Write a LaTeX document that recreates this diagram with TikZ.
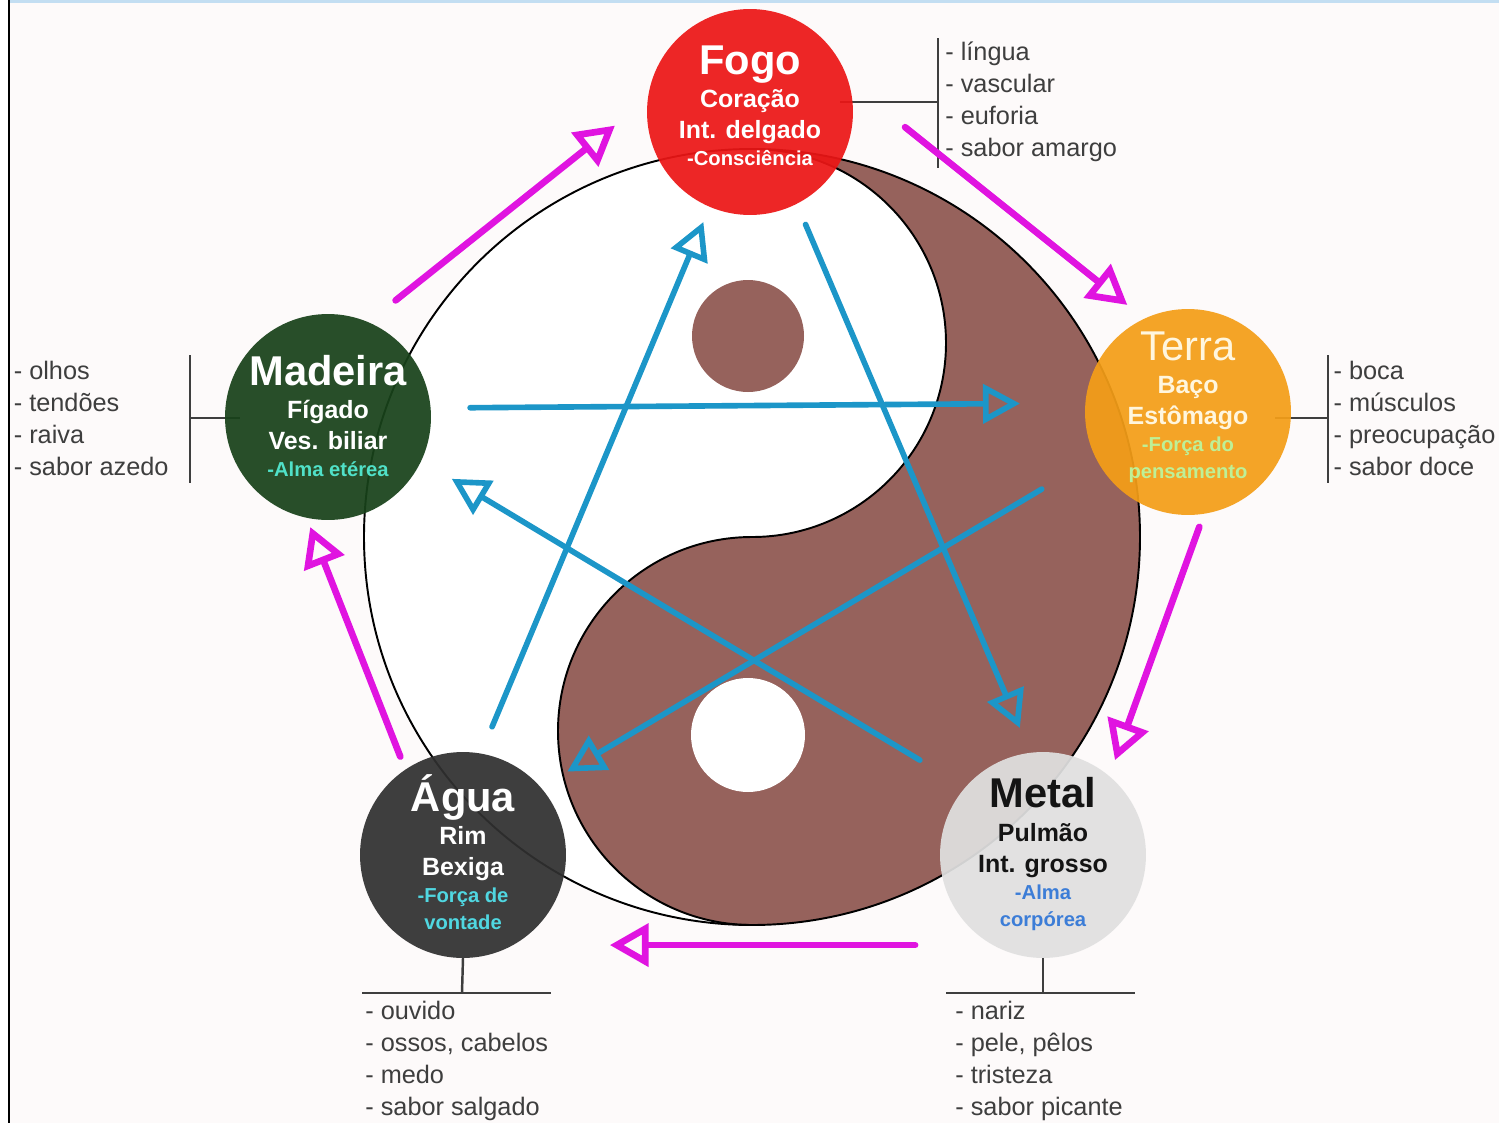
\documentclass[tikz,border=0pt]{standalone}
\usepackage{fontspec}
\setmainfont{Liberation Sans}
\usetikzlibrary{arrows.meta,positioning}

\definecolor{fogoc}{RGB}{236,22,22}
\definecolor{terrac}{RGB}{244,158,24}
\definecolor{metalc}{RGB}{224,224,224}
\definecolor{aguac}{RGB}{48,48,48}
\definecolor{madeirac}{RGB}{24,66,26}
\definecolor{yinc}{RGB}{150,98,92}
\definecolor{magc}{RGB}{224,20,224}
\definecolor{bluc}{RGB}{28,150,200}
\definecolor{txtc}{RGB}{62,62,62}
\definecolor{bgc}{RGB}{253,250,250}
\definecolor{topc}{RGB}{195,222,242}
\definecolor{aquac}{RGB}{80,225,200}
\definecolor{cyanc}{RGB}{80,215,225}
\definecolor{verdec}{RGB}{190,240,150}
\definecolor{azulc}{RGB}{60,125,215}
\definecolor{cremec}{RGB}{255,246,222}

\newcommand\eltitle[1]{{\fontsize{23.7}{24}\selectfont #1}}
\newcommand\elsmall[2]{{\fontsize{11.5}{13}\selectfont\color{#1}#2}}

\begin{document}
\begin{tikzpicture}[x=0.02cm,y=-0.02cm,
  elem/.style={circle,minimum size=4.12cm,inner sep=0pt,outer sep=0pt,fill opacity=0.93},
  etxt/.style={align=center,inner sep=0pt,font=\bfseries\fontsize{14.2}{17.6}\selectfont},
  lst/.style={align=left,inner sep=0pt,text=txtc,font=\fontsize{14.4}{18.2}\selectfont},
  brk/.style={draw=txtc,line width=1.4pt},
  cyc/.style={magc,line width=3.8pt,line cap=round,-{Triangle[open,length=22pt,width=24pt]}},
  ctl/.style={bluc,line width=3.2pt,line cap=round,-{Triangle[open,length=21pt,width=22pt]}}]
  \useasboundingbox (0,0) rectangle (1499,1123);
  % page
  \fill[white] (0,0) rectangle (1499,1123);
  \fill[bgc] (10,0) rectangle (1499,1123);
  \fill[topc] (10,0) rectangle (1499,3);
  \draw[line width=1.7pt] (9,0) -- (9,1123);

  % yin yang
  \fill[white] (752,537) circle[radius=388];
  \fill[yinc] (752,149) arc[start angle=-90,end angle=90,radius=388]
    arc[start angle=90,end angle=270,radius=194]
    arc[start angle=90,end angle=-90,radius=194] -- cycle;
  \draw[line width=1.1pt] (752,537) circle[radius=388];
  \draw[line width=1.1pt] (752,149) arc[start angle=-90,end angle=90,radius=194]
    arc[start angle=270,end angle=90,radius=194];
  \fill[yinc] (748,336) circle[radius=56];
  \fill[white] (748,735) circle[radius=57];

  % brackets
  \coordinate (fogob) at (938,102);
  \coordinate (madeirab) at (190,418);
  \coordinate (terrab) at (1328,418);
  \coordinate (aguab) at (462,993);
  \coordinate (metalb) at (1043,993);
  \draw[brk] (fogob) ++(0,-64) -- ++(0,130);
  \draw[brk] (fogob) -- ++(-98,0);
  \draw[brk] (madeirab) ++(0,-63) -- ++(0,128);
  \draw[brk] (madeirab) -- ++(50,0);
  \draw[brk] (terrab) ++(0,-63) -- ++(0,128);
  \draw[brk] (terrab) -- ++(-53,0);
  \draw[brk] (aguab) ++(-100,0) -- ++(189,0);
  \draw[brk] (metalb) ++(-97,0) -- ++(189,0);

  % elements
  \node[elem,fill=fogoc] (fogo) at (750,112) {};
  \node[elem,fill=terrac] (terra) at (1188,412) {};
  \node[elem,fill=metalc] (metal) at (1043,855) {};
  \node[elem,fill=aguac] (agua) at (463,855) {};
  \node[elem,fill=madeirac] (madeira) at (328,417) {};
  \draw[brk] (agua.south) -- (aguab);
  \draw[brk] (metal.south) -- (metalb);

  \node[etxt,text=white] (fogot) at (750,106)
    {\eltitle{Fogo}\\[1.4pt] Coração\\ Int. delgado\\[-2.2pt] \elsmall{white}{-Consciência}};
  \node[etxt,text=white] (madeirat) at (328,416)
    {\eltitle{Madeira}\\[1.4pt] Fígado\\ Ves. biliar\\[-2.2pt] \elsmall{aquac}{-Alma etérea}};
  \node[etxt,text=cremec] (terrat) at (1188,407)
    {\eltitle{\mdseries Terra}\\[1.4pt] Baço\\ Estômago\\[-2.2pt] \elsmall{verdec}{-Força do}\\[-2.2pt] \elsmall{verdec}{pensamento}};
  \node[etxt,text=black!92] (metalt) at (1043,854)
    {\eltitle{Metal}\\[1.4pt] Pulmão\\ Int. grosso\\[-2.2pt] \elsmall{azulc}{-Alma}\\[-2.2pt] \elsmall{azulc}{corpórea}};
  \node[etxt,text=white] (aguat) at (463,852)
    {\eltitle{Água}\\[1.4pt] Rim\\ Bexiga\\[-2.2pt] \elsmall{cyanc}{-Força de}\\[-2.2pt] \elsmall{cyanc}{vontade}};

  % lists
  \node[lst,right=4pt of fogob] (fogol) {- língua\\- vascular\\- euforia\\- sabor amargo};
  \node[lst,left=12pt of madeirab] (madeiral) {- olhos\\- tendões\\- raiva\\- sabor azedo};
  \node[lst,right=3pt of terrab] (terral) {- boca\\- músculos\\- preocupação\\- sabor doce};
  \node[lst,anchor=north west] (agual) at (365,1001) {- ouvido\\- ossos, cabelos\\- medo\\- sabor salgado};
  \node[lst,anchor=north west] (metall) at (955,1001) {- nariz\\- pele, pêlos\\- tristeza\\- sabor picante};

  % generating cycle
  \draw[cyc,shorten <=0.7cm,shorten >=0.84cm] (madeira.67) -- (fogo.173);
  \draw[cyc,shorten <=1.45cm,shorten >=0.44cm] (fogo.17) -- (terra.115);
  \draw[cyc,shorten <=0.28cm,shorten >=0.34cm] (terra.-81) -- (metal.50);
  \draw[cyc,shorten <=1.56cm,shorten >=1.94cm] (metal.241) -- (agua.-61);
  \draw[cyc,shorten <=0.28cm,shorten >=0.2cm] (agua.124) -- (madeira.258);

  % control cycle
  \draw[ctl,shorten <=0.79cm,shorten >=1.31cm] (madeira.5) -- (terra.175);
  \draw[ctl,shorten <=1.25cm,shorten >=0.62cm] (terra.206) -- (agua.41);
  \draw[ctl,shorten <=0.58cm,shorten >=0.33cm] (agua.80) -- (fogo.-113);
  \draw[ctl,shorten <=0.45cm,shorten >=0.54cm] (fogo.-63) -- (metal.97);
  \draw[ctl,shorten <=1.06cm,shorten >=0.71cm] (metal.139) -- (madeira.-25);
\end{tikzpicture}
\end{document}
